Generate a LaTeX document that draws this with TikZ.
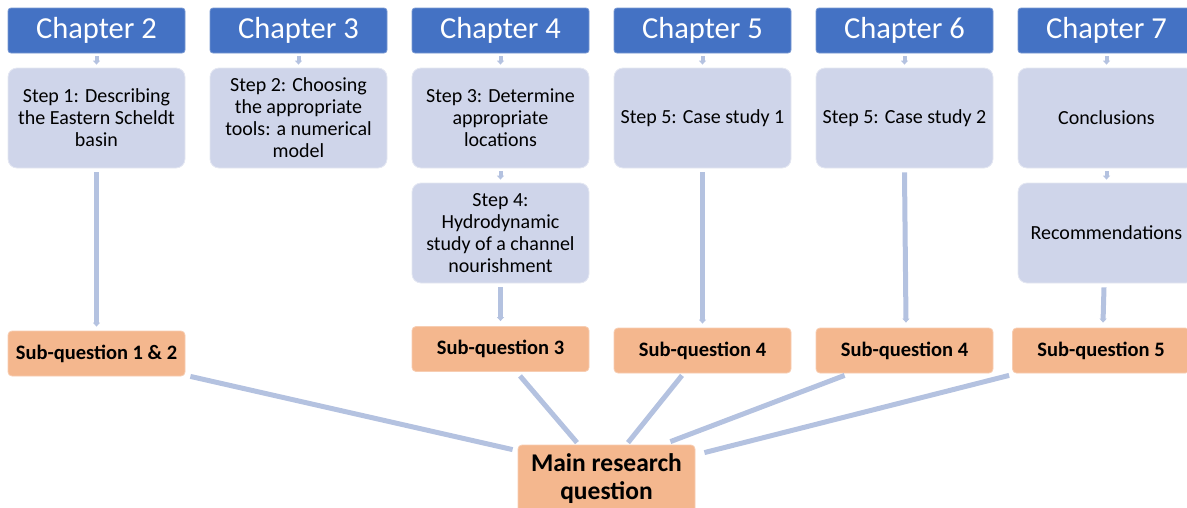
\documentclass[tikz,border=0pt]{standalone}
\usepackage{fontspec}
\setmainfont{Carlito}
\usetikzlibrary{arrows.meta,calc}
\definecolor{chapblue}{RGB}{68,114,196}
\definecolor{chapedge}{RGB}{120,152,210}
\definecolor{stepfill}{RGB}{207,213,234}
\definecolor{stepedge}{RGB}{228,231,242}
\definecolor{sqfill}{RGB}{244,183,142}
\definecolor{sqedge}{RGB}{247,205,178}
\definecolor{connblue}{RGB}{180,194,224}
\begin{document}
\begin{tikzpicture}[x=1pt,y=-1pt,
  chap/.style={fill=chapblue, draw=chapedge, line width=0.8pt, rounded corners=3pt,
    minimum width=177pt, minimum height=45pt, inner sep=0pt, text=white,
    font=\fontsize{30.5}{34}\selectfont},
  stepbox/.style={fill=stepfill, draw=stepedge, line width=0.8pt, rounded corners=9pt,
    minimum width=177pt, minimum height=100pt, inner sep=0pt, align=center,
    font=\fontsize{20}{22}\selectfont},
  sq/.style={fill=sqfill, draw=sqedge, line width=0.8pt, rounded corners=4pt,
    minimum width=177pt, minimum height=45pt, inner sep=0pt,
    font=\bfseries\fontsize{20.5}{23}\selectfont},
  mainq/.style={fill=sqfill, draw=sqedge, line width=0.8pt, rounded corners=4pt,
    minimum width=177pt, minimum height=67pt, inner sep=0pt, align=center,
    font=\bfseries\fontsize{25.5}{27.5}\selectfont},
  conn/.style={draw=connblue, line width=5pt},
  downlink/.style={draw=connblue, line width=5pt, -{Triangle[width=7pt,length=4pt]}},
  smalllink/.style={draw=connblue, line width=4pt, -{Triangle[width=7pt,length=4pt]}}
]
\useasboundingbox (0,0) rectangle (1187,507);

% chapters
\node[chap] (ch2) at (96.5,30.5) {Chapter 2};
\node[chap] (ch3) at (298.5,30.5) {Chapter 3};
\node[chap] (ch4) at (500.5,30.5) {Chapter 4};
\node[chap] (ch5) at (702.5,30.5) {Chapter 5};
\node[chap] (ch6) at (904.5,30.5) {Chapter 6};
\node[chap] (ch7) at (1106.5,30.5) {Chapter 7};

% steps
\node[stepbox] (s1) at (96.5,118) {Step 1: Describing\\the Eastern Scheldt\\basin};
\node[stepbox] (s2) at (298.5,118) {Step 2: Choosing\\the appropriate\\tools: a numerical\\model};
\node[stepbox] (s3) at (500.5,118) {Step 3: Determine\\appropriate\\locations};
\node[stepbox] (s5a) at (702.5,118) {Step 5: Case study 1};
\node[stepbox] (s5b) at (904.5,118) {Step 5: Case study 2};
\node[stepbox] (con) at (1106.5,118) {Conclusions};
\node[stepbox] (s4) at (500.5,233) {Step 4:\\Hydrodynamic\\study of a channel\\nourishment};
\node[stepbox] (rec) at (1106.5,233) {Recommendations};

% sub-questions
\node[sq] (q12) at (96.5,353.5) {Sub-question 1 \& 2};
\node[sq] (q3) at (500.5,349) {Sub-question 3};
\node[sq] (q4a) at (702.5,350.5) {Sub-question 4};
\node[sq] (q4b) at (904.5,350.5) {Sub-question 4};
\node[sq] (q5) at (1101,350.5) {Sub-question 5};

\node[mainq] (main) at (606.5,478.5) {Main research\\question};

% small arrows chapter -> step
\foreach \c/\s in {ch2/s1,ch3/s2,ch4/s3,ch5/s5a,ch6/s5b,ch7/con}{
  \draw[smalllink] ($(\c.south)+(0,3)$) -- ($(\s.north)+(0,-3)$);
}
\draw[smalllink] ($(s3.south)+(0,3)$) -- ($(s4.north)+(0,-3)$);
\draw[smalllink] ($(con.south)+(0,3)$) -- ($(rec.north)+(0,-3)$);

% long vertical connectors
\draw[downlink] ($(s1.south)+(0,4)$) -- ($(q12.north)+(0,-4)$);
\draw[downlink] ($(s4.south)+(0,4)$) -- ($(q3.north)+(0,-5)$);
\draw[downlink] ($(s5a.south)+(0,4)$) -- ($(q4a.north)+(0,-4)$);
\draw[downlink] ($(s5b.south)+(0,4)$) -- ($(q4b.north)+(1.5,-5)$);
\draw[downlink] ($(rec.south)+(-2.5,4)$) -- ($(q5.north)+(2,-5)$);

% connectors to main question
\draw[conn] ($(q12.south east)+(5,0)$) -- ($(main.north west)+(-5,5)$);
\draw[conn] ($(q3.south)+(19.5,4)$) -- ($(main.north)+(-29.5,-2)$);
\draw[conn] ($(q4a.south)+(-20.5,2)$) -- ($(main.north)+(21.5,-2)$);
\draw[conn] ($(q4b.south west)+(29,2)$) -- ($(main.north east)+(-25,-3)$);
\draw[conn] ($(q5.south west)+(-3,2)$) -- ($(main.north east)+(9,8)$);
\end{tikzpicture}
\end{document}
